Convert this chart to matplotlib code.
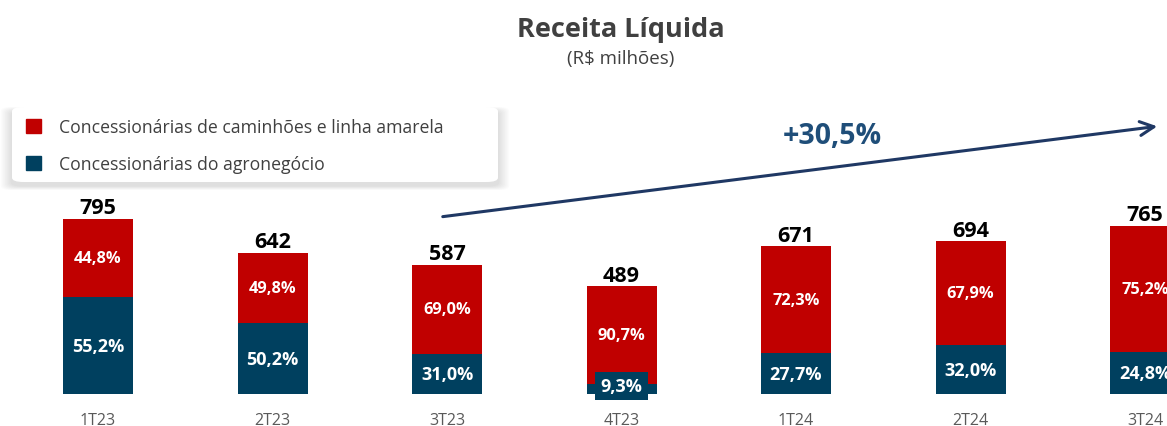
import matplotlib
matplotlib.use("Agg")
import matplotlib.pyplot as plt
from matplotlib.patches import FancyBboxPatch, Patch
import numpy as np

plt.rcParams['font.family'] = ['Open Sans', 'DejaVu Sans']

categories = ["1T23", "2T23", "3T23", "4T23", "1T24", "2T24", "3T24"]
totals = [795, 642, 587, 489, 671, 694, 765]
pct_agro = [55.2, 50.2, 31.0, 9.3, 27.7, 32.0, 24.8]
pct_trucks = [44.8, 49.8, 69.0, 90.7, 72.3, 67.9, 75.2]
growth_label = "+30,5%"
series_names = ["Concessionárias de caminhões e linha amarela", "Concessionárias do agronegócio"]

RED = "#C00000"
BLUE = "#00405F"
DARK = "#404040"
NAVY = "#1F3864"

W, H = 1167, 427
fig = plt.figure(figsize=(W / 100, H / 100), dpi=100)
ax = fig.add_axes([0, 0, 1, 1])

px_x = 174.5
x0 = 98
base_y = 395
py = 175 / 795
ax.set_xlim(-x0 / px_x, (W - x0) / px_x)
ax.set_ylim(-(H - base_y) / py, base_y / py)
ax.axis("off")

x = np.arange(len(categories))
totals_a = np.array(totals, float)
agro = totals_a * np.array(pct_agro) / 100
trucks = totals_a - agro
bw = 70 / px_x
ax.bar(x, agro, width=bw, color=BLUE, zorder=2)
ax.bar(x, trucks, bottom=agro, width=bw, color=RED, zorder=2)

fmt = lambda v: f"{v:.1f}%".replace(".", ",")
for i in range(len(x)):
    ax.text(x[i], totals_a[i] + 0.5 / py, f"{totals[i]}", ha="center", va="bottom",
            fontsize=15.5, fontweight="bold", color="black")
    ax.text(x[i], agro[i] + trucks[i] / 2, fmt(pct_trucks[i]),
            ha="center", va="center", fontsize=11.8, fontweight="bold", color="white", zorder=3)
    if pct_agro[i] < 15:
        ax.text(x[i], (base_y - 387) / py, fmt(pct_agro[i]),
                ha="center", va="center", fontsize=13, fontweight="bold", color="white", zorder=4,
                bbox=dict(boxstyle="square,pad=0.3", fc=BLUE, ec="none"))
    else:
        ax.text(x[i], agro[i] / 2, fmt(pct_agro[i]),
                ha="center", va="center", fontsize=13, fontweight="bold", color="white", zorder=3)
    ax.text(x[i], -(421 - base_y) / py, categories[i], ha="center", va="center",
            fontsize=11.5, color="#595959")

# growth arrow
ax.annotate("", xy=((1160 - x0) / px_x, (base_y - 127) / py),
            xytext=((440 - x0) / px_x, (base_y - 218) / py),
            arrowprops=dict(arrowstyle="->,head_length=1.0,head_width=0.5", color=NAVY, lw=2.2),
            zorder=5)
fig.text(832 / W, 1 - 137 / H, growth_label, ha="center", va="center",
         fontsize=20.5, fontweight="bold", color="#1F4E79")

# title
fig.text(621 / W, 1 - 30 / H, "Receita Líquida", ha="center", va="center",
         fontsize=19.5, fontweight="bold", color=DARK)
fig.text(621 / W, 1 - 59 / H, "(R$ milhões)", ha="center", va="center",
         fontsize=13.5, color=DARK)

# legend box with soft shadow
lx0, ly0, lx1, ly1 = 12, 108, 498, 183
for k in range(8, 0, -1):
    sh = FancyBboxPatch((lx0 / W, 1 - (ly1 + 4) / H), (lx1 - lx0) / W, (ly1 - ly0) / H,
                        boxstyle=f"round,pad={k*0.0012},rounding_size=0.01",
                        transform=fig.transFigure, fc="black", ec="none", alpha=0.015, zorder=6)
    fig.patches.append(sh)
box = FancyBboxPatch((lx0 / W, 1 - ly1 / H), (lx1 - lx0) / W, (ly1 - ly0) / H,
                     boxstyle="round,pad=0,rounding_size=0.01",
                     transform=fig.transFigure, fc="white", ec="none", zorder=7)
fig.patches.append(box)
handles = [Patch(color=RED), Patch(color=BLUE)]
leg = fig.legend(handles, series_names, loc="upper left",
                 bbox_to_anchor=(10 / W, 1 - 103 / H), frameon=False,
                 fontsize=12.7, handlelength=0.85, handleheight=0.85, handletextpad=1.0,
                 labelspacing=1.1, labelcolor=DARK)
leg.set_zorder(8)

fig.savefig("out.png", dpi=100)
